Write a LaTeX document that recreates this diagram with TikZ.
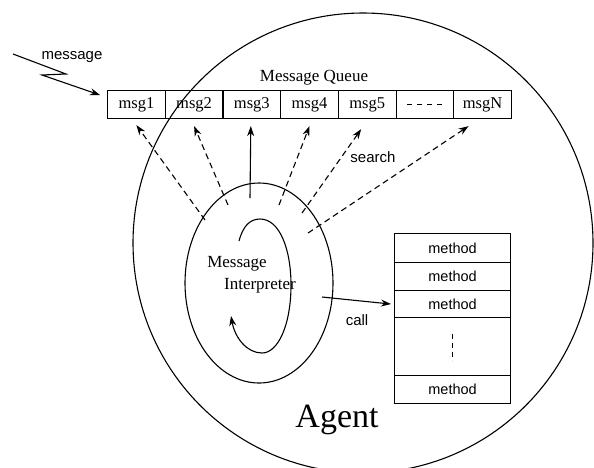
\documentclass[tikz,border=0pt]{standalone}
\usepackage{fontspec}
\setmainfont{Liberation Serif}
\newfontfamily\labelsans{Liberation Sans}
\usetikzlibrary{arrows.meta,shapes.geometric}
\begin{document}
\begin{tikzpicture}[x=1pt,y=-1pt,line width=1.1pt,
  cell/.style={draw,minimum width=57.7pt,minimum height=28pt,inner sep=0pt,
    anchor=north west,font=\fontsize{16.5}{16.5}\selectfont},
  mcell/.style={draw,minimum width=116pt,inner sep=0pt,anchor=north west,
    font=\labelsans\fontsize{14.5}{14.5}\selectfont},
  sanslabel/.style={font=\labelsans\fontsize{15}{15}\selectfont},
  seriflabel/.style={font=\fontsize{17}{17}\selectfont},
  tip/.style={-{Stealth[length=10pt,width=7pt]}},
  dsh/.style={dash pattern=on 6pt off 4pt}]
\useasboundingbox (0,0) rectangle (594,467);

% the agent
\node[draw,circle,minimum size=460pt,inner sep=0pt] (agent) at (363,243) {};
\node[font=\fontsize{34}{34}\selectfont] (agentlabel) at (337,420) {Agent};

% message queue
\node[seriflabel] (qlabel) at (314,78) {Message Queue};
\node[cell] (q1) at (107,90) {msg1};
\node[cell] (q2) at (164.7,90) {msg2};
\node[cell] (q3) at (222.4,90) {msg3};
\node[cell] (q4) at (280.1,90) {msg4};
\node[cell] (q5) at (337.8,90) {msg5};
\node[cell] (q6) at (395.5,90) {};
\node[cell] (q7) at (453.2,90) {msgN};
\draw[line width=1pt,dash pattern=on 5pt off 5pt] ([xshift=-18pt]q6.center) -- ([xshift=18pt]q6.center);

% incoming message
\node[sanslabel] (msglabel) at (72,57) {message};
\coordinate (src) at (13,54);
\draw[tip] (src) -- (66,74) -- (42,75) -- ([xshift=-7pt,yshift=-5pt]q1.north west);

% message interpreter
\node[draw,ellipse,minimum width=148pt,minimum height=200pt,inner sep=0pt] (interp) at (259,283) {};
\node[seriflabel] (interpA) at (237,264) {Message};
\node[seriflabel] (interpB) at (260,286) {Interpreter};
\draw[tip] (239,241) .. controls (243,226) and (250,219) .. (260,219)
  .. controls (280,219) and (291,250) .. (291,285)
  .. controls (291,325) and (278,353) .. (262,353)
  .. controls (247,353) and (235,338) .. (231,316);

% search arrows
\coordinate (s1) at (205,220);
\coordinate (s2) at (228,205);
\coordinate (s3) at (250,198);
\coordinate (s4) at (279,205);
\coordinate (s5) at (302,213);
\coordinate (s6) at (308,233);
\draw[tip,dsh] (s1) -- ([yshift=-6pt]q1.south);
\draw[tip,dsh] (s2) -- ([yshift=-7pt]q2.south);
\draw[tip] (s3) -- ([xshift=-1pt,yshift=-7pt]q3.south);
\draw[tip,dsh] (s4) -- ([yshift=-7pt]q4.south);
\draw[tip,dsh] (s5) -- ([xshift=-6pt,yshift=-10pt]q5.south);
\draw[tip,dsh] (s6) -- ([xshift=-14pt,yshift=-7pt]q7.south);
\node[sanslabel] (search) at (373,157) {search};

% method table
\node[mcell,minimum height=29pt] (m1) at (394,233) {method};
\node[mcell,minimum height=28pt] (m2) at (394,262) {method};
\node[mcell,minimum height=27pt] (m3) at (394,290) {method};
\node[mcell,minimum height=58pt] (m4) at (394,317) {};
\node[mcell,minimum height=28pt] (m5) at (394,375) {method};
\draw[dash pattern=on 5pt off 4pt] ([yshift=13pt]m4.center) -- ([yshift=-14pt]m4.center);

% call
\coordinate (c) at (322,297);
\draw[tip] (c) -- ([xshift=-3pt]m3.west);
\node[sanslabel] (call) at (357,320) {call};
\end{tikzpicture}
\end{document}
